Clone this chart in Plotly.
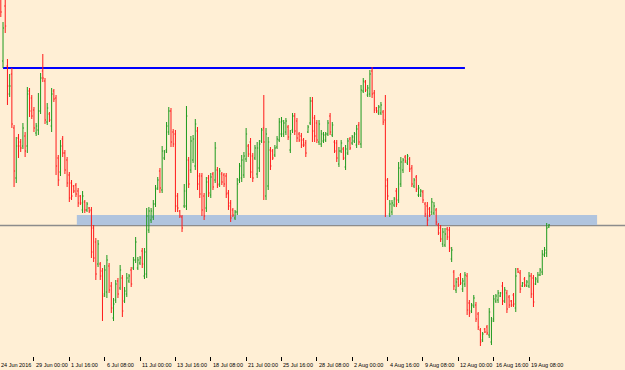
import plotly.graph_objects as go

# ---- data (price in chart points) ----
opens = [365,357,295,350,290,262,282,228,178,218,214,210,220,210,265,258,246,223,226,245,
         285,275,234,242,230,265,258,198,184,217,203,196,181,173,170,171,165,160,146,154,
         146,148,146,128,114,92,92,85,62,64,90,70,38,56,75,68,78,55,62,75,
         86,88,96,88,93,105,80,82,126,136,139,152,168,185,166,198,206,224,245,224,
         222,160,145,139,150,150,196,186,196,190,225,180,180,160,148,178,161,182,176,186,
         172,182,181,180,163,153,146,138,144,176,178,181,197,210,214,200,198,182,188,215,
         228,160,170,206,205,201,209,216,222,222,224,229,206,226,240,235,222,220,216,213,
         224,233,255,238,233,214,212,215,216,222,240,221,214,213,192,205,207,189,203,217,
         213,215,211,231,212,265,274,261,262,285,263,248,243,243,244,236,176,142,144,151,
         165,156,172,186,199,193,197,188,170,179,161,161,164,152,150,147,144,143,146,131,
         128,112,111,127,126,97,84,66,77,81,67,72,80,53,45,50,51,42,26,16,
         27,29,21,14,37,55,56,60,70,55,63,59,55,61,48,87,83,70,77,70,
         70,80,78,72,75,81,84,101,103,129]
highs = [370,361,334,356,297,282,288,231,219,222,217,233,224,269,268,261,249,233,263,283,
         302,278,253,244,268,267,261,201,216,220,206,199,184,176,171,173,168,161,165,156,
         154,149,149,131,118,116,94,88,91,101,93,74,58,76,78,91,81,69,83,82,
         89,99,119,99,100,108,108,148,149,148,156,171,179,188,210,206,234,249,248,227,
         226,163,146,141,172,250,199,220,221,237,229,183,183,163,179,181,183,184,214,189,
         188,184,183,183,166,156,148,146,178,193,201,204,228,212,218,203,211,214,216,228,
         261,228,219,209,207,211,220,238,239,236,238,231,226,243,243,238,224,223,218,216,
         231,259,259,241,236,236,226,224,224,236,243,234,216,216,209,216,209,211,218,219,
         221,224,231,234,271,278,276,271,286,289,266,249,251,254,246,261,178,156,156,159,
         168,194,199,198,201,202,199,191,178,181,171,167,166,154,154,149,158,154,148,133,
         131,128,128,129,129,109,86,78,79,83,78,84,83,56,53,61,54,44,28,24,
         28,31,48,39,61,62,66,64,74,69,66,61,56,63,88,88,86,74,79,76,
         84,83,81,79,84,88,106,109,133,132]
lows = [340,339,288,323,251,259,228,169,173,198,204,207,199,203,239,237,224,220,221,242,
        274,232,231,234,224,254,181,170,180,199,182,169,154,156,163,159,149,151,143,143,
        144,143,98,94,76,89,76,35,59,58,63,43,35,53,58,66,39,53,59,73,
        69,86,93,86,91,88,77,78,123,133,136,149,166,163,163,196,203,221,209,209,
        144,144,138,124,148,146,168,183,193,186,166,158,140,136,144,159,158,166,173,168,
        169,171,169,158,146,134,139,136,141,173,174,178,194,199,178,174,196,178,184,213,
        156,156,166,186,196,199,207,214,219,219,221,216,203,223,221,214,214,208,209,199,
        223,231,214,214,213,211,209,213,214,220,221,219,203,194,189,203,196,186,201,206,
        211,213,208,211,208,263,264,259,259,258,243,243,241,241,231,139,156,139,141,149,
        149,153,169,183,193,191,184,169,168,164,159,159,153,139,130,139,141,141,131,121,
        114,109,109,116,104,94,66,63,69,71,64,69,41,39,43,48,34,26,10,14,
        23,21,18,11,34,53,53,59,51,53,43,48,49,49,44,83,63,69,69,69,
        68,58,49,71,73,80,81,99,99,128]
closes = [345,344,328,330,270,270,232,185,210,210,208,228,205,262,245,240,228,230,245,278,
          278,236,248,236,262,257,190,176,210,203,186,173,158,160,165,162,153,153,160,146,
          152,145,104,98,82,112,80,60,86,96,66,48,52,72,62,86,45,65,78,80,
          72,96,114,96,98,92,104,140,145,145,152,167,176,168,205,204,230,245,214,212,
          150,148,140,128,165,240,172,215,217,232,172,162,146,140,174,163,179,169,208,171,
          185,174,172,162,150,138,141,144,172,190,196,200,222,202,184,178,208,208,212,226,
          214,222,214,190,198,208,217,234,235,233,235,219,222,240,225,218,216,211,211,203,
          229,255,225,220,216,232,222,221,222,233,224,231,205,198,205,213,198,207,215,208,
          219,222,227,214,266,275,266,268,282,262,246,245,249,251,234,170,160,152,153,157,
          152,188,194,196,195,200,187,172,176,167,168,165,156,142,136,141,154,150,134,123,
          117,124,122,119,108,106,70,74,71,73,75,81,46,43,51,58,37,29,14,22,
          24,23,44,35,57,60,63,63,55,66,47,51,51,52,80,84,67,73,71,74,
          80,62,54,77,81,86,102,106,128,131]

tick_bars = [0, 16, 32, 48, 64, 80, 96, 112, 128, 144, 160, 176, 192, 208, 224, 240]
tick_labels = ["24 Jun 2016", "29 Jun 00:00", "1 Jul 16:00", "6 Jul 08:00", "11 Jul 00:00",
               "13 Jul 16:00", "18 Jul 08:00", "21 Jul 00:00", "25 Jul 16:00", "28 Jul 08:00",
               "2 Aug 00:00", "4 Aug 16:00", "9 Aug 08:00", "12 Aug 00:00", "16 Aug 16:00",
               "19 Aug 08:00"]

# drawn objects
resistance_level = 288
resistance_from, resistance_to = 2, 211
zone_low, zone_high = 131, 141
zone_from, zone_to = 35.4, 270.8
bid_level = 130.5

bars = list(range(len(opens)))

BG = "#FFEFD5"
X0, X1 = 0.633, 283.43
Y0, Y1 = 0, 356

fig = go.Figure()
fig.add_trace(go.Ohlc(
    x=bars, open=opens, high=highs, low=lows, close=closes,
    increasing=dict(line=dict(color="#1E9A1E", width=1)),
    decreasing=dict(line=dict(color="#FF1A1A", width=1)),
    tickwidth=0.45, hoverinfo="skip", showlegend=False,
))

# support zone rectangle
fig.add_shape(type="rect", xref="x", yref="y", x0=zone_from, x1=zone_to,
              y0=zone_low, y1=zone_high, fillcolor="#B0C4DE", line=dict(width=0),
              layer="below")
# bid line
fig.add_shape(type="line", xref="paper", yref="y", x0=0, x1=1,
              y0=bid_level, y1=bid_level, line=dict(color="#8C8C8C", width=1.5),
              layer="below")
# resistance line
fig.add_shape(type="line", xref="x", yref="y", x0=resistance_from, x1=resistance_to,
              y0=resistance_level, y1=resistance_level, line=dict(color="#0000FF", width=2),
              layer="below")

# tick labels placed to the right of their tick (MetaTrader style)
for b, t in zip(tick_bars, tick_labels):
    fig.add_annotation(x=(b - X0) / (X1 - X0), xref="paper", y=0, yref="paper",
                       text=t, showarrow=False, xanchor="left", yanchor="top",
                       xshift=0, yshift=-4,
                       font=dict(family="Liberation Sans, Arial, sans-serif", size=5.5,
                                 color="#000000"))

fig.update_layout(
    width=625, height=370,
    margin=dict(l=0, r=0, t=0, b=14),
    paper_bgcolor=BG, plot_bgcolor=BG,
    xaxis=dict(range=[X0, X1], tickvals=tick_bars, showticklabels=False,
               ticks="outside", ticklen=4, tickcolor="#000000", tickwidth=1,
               showgrid=False, zeroline=False, showline=False,
               rangeslider=dict(visible=False)),
    yaxis=dict(range=[Y0, Y1], visible=False, showgrid=False, zeroline=False),
)

fig.write_html("out.html")
